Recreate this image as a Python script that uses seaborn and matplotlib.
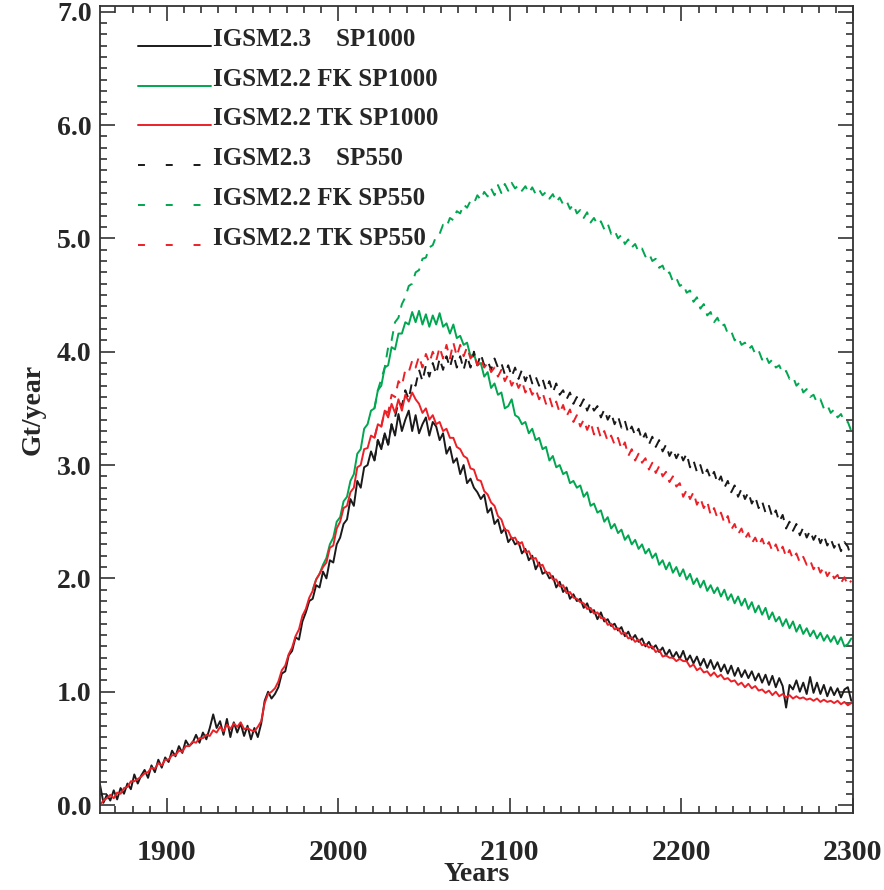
import numpy as np
import pandas as pd
import matplotlib
matplotlib.use("Agg")
import matplotlib.pyplot as plt
from matplotlib.lines import Line2D
from matplotlib.legend_handler import HandlerLine2D
from matplotlib.ticker import MultipleLocator, FormatStrFormatter
import seaborn as sns

# years (every 2nd year)
yrs_all = np.arange(1861, 2300, 2)
yrs_fk = np.arange(1985, 2300, 2)
yrs_550 = np.arange(2021, 2300, 2)

# IGSM2.3 SP1000 (black solid)
igsm23_sp1000 = [
    0.18, 0.02, 0.09, 0.04, 0.13, 0.05, 0.15, 0.10, 0.19, 0.14,
    0.27, 0.19, 0.26, 0.31, 0.24, 0.35, 0.29, 0.40, 0.33, 0.42,
    0.38, 0.48, 0.43, 0.52, 0.46, 0.57, 0.52, 0.55, 0.62, 0.55,
    0.64, 0.58, 0.68, 0.80, 0.68, 0.74, 0.62, 0.76, 0.60, 0.73,
    0.64, 0.72, 0.61, 0.70, 0.58, 0.68, 0.60, 0.72, 0.92, 1.00,
    0.94, 0.98, 1.04, 1.16, 1.18, 1.32, 1.36, 1.48, 1.46, 1.62,
    1.70, 1.80, 1.82, 1.94, 1.92, 2.06, 2.00, 2.16, 2.14, 2.30,
    2.36, 2.48, 2.52, 2.70, 2.64, 2.86, 2.80, 2.98, 3.00, 3.12,
    3.04, 3.22, 3.14, 3.28, 3.18, 3.36, 3.26, 3.45, 3.30, 3.40,
    3.48, 3.30, 3.44, 3.28, 3.36, 3.42, 3.26, 3.38, 3.34, 3.22,
    3.28, 3.10, 3.16, 3.02, 3.06, 2.92, 3.00, 2.84, 2.88, 2.80,
    2.76, 2.70, 2.74, 2.58, 2.62, 2.48, 2.52, 2.40, 2.44, 2.32,
    2.36, 2.30, 2.32, 2.22, 2.26, 2.16, 2.20, 2.08, 2.14, 2.04,
    2.06, 2.00, 2.02, 1.92, 1.97, 1.88, 1.92, 1.82, 1.86, 1.80,
    1.82, 1.74, 1.78, 1.70, 1.72, 1.64, 1.70, 1.62, 1.64, 1.58,
    1.60, 1.54, 1.57, 1.49, 1.53, 1.46, 1.50, 1.44, 1.47, 1.40,
    1.44, 1.38, 1.41, 1.35, 1.39, 1.32, 1.37, 1.30, 1.35, 1.29,
    1.36, 1.27, 1.32, 1.25, 1.31, 1.23, 1.29, 1.21, 1.28, 1.20,
    1.26, 1.18, 1.24, 1.16, 1.23, 1.14, 1.21, 1.13, 1.19, 1.12,
    1.18, 1.10, 1.16, 1.08, 1.15, 1.06, 1.14, 1.04, 1.12, 1.05,
    0.86, 1.06, 1.02, 1.10, 1.00, 1.08, 0.98, 1.13, 0.99, 1.08,
    0.98, 1.06, 0.96, 1.04, 0.97, 1.03, 0.95, 1.02, 1.04, 0.92,
]

# IGSM2.2 TK SP1000 (red solid)
tk_sp1000 = [
    0.00, 0.04, 0.06, 0.09, 0.06, 0.11, 0.10, 0.15, 0.16, 0.21,
    0.21, 0.23, 0.25, 0.28, 0.29, 0.33, 0.32, 0.37, 0.35, 0.40,
    0.40, 0.44, 0.44, 0.48, 0.47, 0.52, 0.52, 0.56, 0.55, 0.59,
    0.59, 0.62, 0.61, 0.66, 0.64, 0.69, 0.65, 0.71, 0.67, 0.72,
    0.69, 0.73, 0.67, 0.68, 0.66, 0.65, 0.69, 0.74, 0.90, 0.98,
    1.00, 1.03, 1.09, 1.19, 1.23, 1.33, 1.39, 1.49, 1.55, 1.67,
    1.73, 1.83, 1.89, 1.99, 2.04, 2.10, 2.14, 2.27, 2.29, 2.44,
    2.50, 2.62, 2.64, 2.76, 2.80, 2.98, 3.00, 3.14, 3.15, 3.26,
    3.24, 3.36, 3.34, 3.48, 3.42, 3.54, 3.46, 3.58, 3.48, 3.62,
    3.56, 3.64, 3.58, 3.54, 3.46, 3.50, 3.40, 3.44, 3.36, 3.38,
    3.30, 3.32, 3.24, 3.24, 3.16, 3.14, 3.08, 3.06, 2.97, 2.96,
    2.87, 2.86, 2.77, 2.74, 2.67, 2.64, 2.55, 2.52, 2.43, 2.42,
    2.35, 2.36, 2.30, 2.32, 2.23, 2.24, 2.17, 2.18, 2.11, 2.12,
    2.05, 2.05, 1.99, 1.99, 1.93, 1.94, 1.87, 1.88, 1.83, 1.82,
    1.79, 1.78, 1.73, 1.74, 1.69, 1.70, 1.65, 1.65, 1.59, 1.60,
    1.55, 1.56, 1.51, 1.52, 1.47, 1.48, 1.44, 1.46, 1.41, 1.42,
    1.39, 1.40, 1.35, 1.37, 1.31, 1.32, 1.30, 1.30, 1.27, 1.29,
    1.27, 1.27, 1.22, 1.24, 1.19, 1.21, 1.17, 1.18, 1.14, 1.17,
    1.13, 1.15, 1.11, 1.12, 1.09, 1.10, 1.06, 1.08, 1.04, 1.07,
    1.03, 1.05, 1.01, 1.02, 0.99, 1.01, 0.97, 1.00, 0.96, 0.98,
    0.95, 0.97, 0.94, 0.96, 0.94, 0.95, 0.93, 0.94, 0.92, 0.94,
    0.91, 0.93, 0.91, 0.92, 0.90, 0.92, 0.89, 0.91, 0.88, 0.90,
]

# IGSM2.2 FK SP1000 (green solid), same as TK before 1985
fk_sp1000 = [
    1.90, 1.99, 2.04, 2.12, 2.18, 2.30, 2.36, 2.50,
    2.54, 2.68, 2.72, 2.86, 2.92, 3.10, 3.14, 3.32, 3.36, 3.48,
    3.50, 3.66, 3.70, 3.86, 3.88, 4.04, 4.02, 4.16, 4.16, 4.26,
    4.24, 4.35, 4.26, 4.36, 4.24, 4.33, 4.22, 4.32, 4.24, 4.34,
    4.22, 4.25, 4.16, 4.24, 4.12, 4.14, 4.06, 4.08, 3.96, 3.98,
    3.88, 3.90, 3.78, 3.82, 3.68, 3.72, 3.62, 3.64, 3.50, 3.52,
    3.58, 3.44, 3.42, 3.36, 3.38, 3.28, 3.32, 3.22, 3.24, 3.14,
    3.16, 3.04, 3.08, 2.98, 3.00, 2.92, 2.94, 2.84, 2.86, 2.80,
    2.82, 2.72, 2.76, 2.64, 2.66, 2.58, 2.60, 2.50, 2.54, 2.44,
    2.48, 2.40, 2.43, 2.34, 2.38, 2.30, 2.34, 2.26, 2.30, 2.22,
    2.26, 2.18, 2.22, 2.12, 2.16, 2.08, 2.14, 2.05, 2.10, 2.02,
    2.08, 1.99, 2.04, 1.95, 2.00, 1.92, 1.98, 1.89, 1.94, 1.87,
    1.92, 1.84, 1.90, 1.81, 1.86, 1.78, 1.84, 1.76, 1.82, 1.73,
    1.79, 1.70, 1.76, 1.68, 1.74, 1.64, 1.70, 1.62, 1.66, 1.58,
    1.64, 1.56, 1.62, 1.53, 1.59, 1.51, 1.56, 1.49, 1.54, 1.47,
    1.52, 1.45, 1.50, 1.44, 1.49, 1.42, 1.48, 1.40, 1.42, 1.47,
]

# SP550 runs (dashed), from 2021
igsm23_sp550 = [
    3.04, 3.22, 3.14, 3.28, 3.18, 3.36, 3.42, 3.56, 3.52, 3.66,
    3.58, 3.74, 3.70, 3.84, 3.74, 3.88, 3.78, 3.90, 3.80, 3.94,
    3.84, 3.96, 3.86, 3.98, 3.86, 3.96, 3.84, 3.96, 3.86, 4.00,
    3.88, 3.98, 3.88, 3.92, 3.84, 3.94, 3.86, 3.90, 3.80, 3.88,
    3.78, 3.86, 3.76, 3.84, 3.74, 3.82, 3.72, 3.78, 3.70, 3.76,
    3.66, 3.74, 3.64, 3.72, 3.62, 3.66, 3.58, 3.64, 3.54, 3.60,
    3.52, 3.58, 3.48, 3.55, 3.48, 3.52, 3.42, 3.49, 3.40, 3.46,
    3.36, 3.43, 3.33, 3.39, 3.28, 3.34, 3.26, 3.32, 3.22, 3.28,
    3.18, 3.25, 3.16, 3.22, 3.12, 3.18, 3.08, 3.14, 3.06, 3.12,
    3.04, 3.10, 2.98, 3.04, 2.94, 3.00, 2.90, 2.96, 2.88, 2.94,
    2.84, 2.90, 2.80, 2.86, 2.76, 2.82, 2.72, 2.79, 2.70, 2.76,
    2.66, 2.72, 2.62, 2.68, 2.58, 2.64, 2.54, 2.60, 2.50, 2.56,
    2.44, 2.50, 2.42, 2.48, 2.38, 2.45, 2.36, 2.42, 2.34, 2.40,
    2.31, 2.38, 2.29, 2.35, 2.27, 2.33, 2.24, 2.32, 2.28, 2.18,
]

fk_sp550 = [
    3.50, 3.66, 3.76, 3.86, 4.04, 4.10, 4.26, 4.30, 4.42, 4.48,
    4.58, 4.60, 4.70, 4.72, 4.82, 4.83, 4.92, 4.94, 5.02, 5.04,
    5.12, 5.10, 5.18, 5.16, 5.24, 5.22, 5.30, 5.27, 5.33, 5.31,
    5.38, 5.34, 5.41, 5.37, 5.44, 5.38, 5.47, 5.40, 5.48, 5.42,
    5.49, 5.44, 5.47, 5.42, 5.46, 5.40, 5.45, 5.39, 5.43, 5.38,
    5.41, 5.35, 5.39, 5.32, 5.36, 5.30, 5.33, 5.26, 5.30, 5.22,
    5.25, 5.18, 5.23, 5.14, 5.18, 5.12, 5.15, 5.08, 5.13, 5.04,
    5.07, 5.00, 5.03, 4.95, 4.99, 4.92, 4.95, 4.88, 4.91, 4.84,
    4.87, 4.80, 4.82, 4.74, 4.76, 4.68, 4.70, 4.62, 4.65, 4.58,
    4.60, 4.52, 4.54, 4.44, 4.48, 4.38, 4.42, 4.32, 4.35, 4.26,
    4.30, 4.22, 4.24, 4.16, 4.18, 4.10, 4.13, 4.06, 4.08, 4.02,
    4.05, 3.98, 4.01, 3.93, 3.97, 3.90, 3.93, 3.86, 3.88, 3.81,
    3.83, 3.76, 3.78, 3.70, 3.73, 3.64, 3.67, 3.60, 3.62, 3.55,
    3.58, 3.50, 3.53, 3.46, 3.49, 3.42, 3.45, 3.38, 3.38, 3.30,
]

tk_sp550 = [
    3.24, 3.36, 3.34, 3.48, 3.46, 3.62, 3.60, 3.74, 3.70, 3.84,
    3.82, 3.92, 3.86, 3.96, 3.86, 3.98, 3.90, 4.00, 3.92, 4.04,
    3.94, 4.06, 3.94, 4.08, 3.96, 4.06, 3.96, 4.04, 3.94, 3.98,
    3.88, 3.94, 3.86, 3.90, 3.82, 3.86, 3.78, 3.84, 3.74, 3.80,
    3.70, 3.76, 3.68, 3.74, 3.64, 3.70, 3.62, 3.67, 3.58, 3.64,
    3.54, 3.60, 3.50, 3.56, 3.46, 3.53, 3.43, 3.49, 3.38, 3.44,
    3.34, 3.40, 3.31, 3.38, 3.27, 3.34, 3.24, 3.30, 3.21, 3.26,
    3.18, 3.24, 3.14, 3.20, 3.08, 3.14, 3.04, 3.10, 3.02, 3.06,
    2.96, 3.02, 2.93, 2.99, 2.90, 2.94, 2.85, 2.90, 2.81, 2.84,
    2.72, 2.78, 2.70, 2.76, 2.65, 2.71, 2.62, 2.68, 2.56, 2.62,
    2.53, 2.58, 2.49, 2.55, 2.43, 2.48, 2.39, 2.44, 2.35, 2.40,
    2.31, 2.36, 2.29, 2.35, 2.27, 2.32, 2.24, 2.30, 2.22, 2.28,
    2.19, 2.25, 2.17, 2.22, 2.14, 2.19, 2.12, 2.16, 2.08, 2.13,
    2.05, 2.10, 2.02, 2.07, 2.00, 2.03, 1.96, 2.01, 1.94, 1.98,
]

labels = ["IGSM2.3    SP1000", "IGSM2.2 FK SP1000", "IGSM2.2 TK SP1000",
          "IGSM2.3    SP550", "IGSM2.2 FK SP550", "IGSM2.2 TK SP550"]

BLACK = "#1a1a1a"
GREEN = "#00a650"
RED = "#ec2027"


class BaselineLine(HandlerLine2D):
    # legend sample drawn along the text baseline, as in the original
    def create_artists(self, legend, orig_handle, xdescent, ydescent,
                       width, height, fontsize, trans):
        arts = super().create_artists(legend, orig_handle, xdescent, ydescent,
                                      width, height, fontsize, trans)
        for a in arts:
            a.set_ydata(np.asarray(a.get_ydata()) - 0.5 * height)
        return arts


sns.set_style("ticks")
plt.rcParams["font.family"] = ["Liberation Serif", "DejaVu Serif"]
plt.rcParams["font.weight"] = "bold"

fig = plt.figure(figsize=(8.84, 8.9), dpi=100)
ax = fig.add_axes([100 / 884, 1 - 813 / 890, 753 / 884, 807 / 890])

lw = 1.4
dash = (0, (5, 4))
sns.lineplot(x=yrs_fk, y=fk_sp1000, ax=ax, color=GREEN, lw=lw, estimator=None)
sns.lineplot(x=yrs_550, y=fk_sp550, ax=ax, color=GREEN, lw=lw, estimator=None, linestyle=dash)
sns.lineplot(x=yrs_550, y=igsm23_sp550, ax=ax, color=BLACK, lw=lw, estimator=None, linestyle=dash)
sns.lineplot(x=yrs_550, y=tk_sp550, ax=ax, color=RED, lw=lw, estimator=None, linestyle=dash)
sns.lineplot(x=yrs_all, y=igsm23_sp1000, ax=ax, color=BLACK, lw=lw, estimator=None)
sns.lineplot(x=yrs_all, y=tk_sp1000, ax=ax, color=RED, lw=lw, estimator=None)

ax.set_xlim(1861, 2300)
ax.set_ylim(-0.07, 7.05)
ax.xaxis.set_major_locator(MultipleLocator(100))
ax.xaxis.set_minor_locator(MultipleLocator(10))
ax.yaxis.set_major_locator(MultipleLocator(1.0))
ax.yaxis.set_minor_locator(MultipleLocator(0.1))
ax.yaxis.set_major_formatter(FormatStrFormatter("%.1f"))

for s in ax.spines.values():
    s.set_color("#333333")
    s.set_linewidth(1.3)
ax.tick_params(which="both", direction="in", top=True, right=True,
               color="#333333", width=1.2)
ax.tick_params(which="major", length=11)
ax.tick_params(which="minor", length=5)
ax.tick_params(axis="x", which="major", labelsize=21.5, pad=19)
ax.tick_params(axis="y", which="major", labelsize=20, pad=6)
for t in ax.get_xticklabels() + ax.get_yticklabels():
    t.set_fontweight("bold")

ax.set_xlabel("Years", fontsize=20, fontweight="bold", labelpad=-3)
ax.set_ylabel("Gt/year", fontsize=20, fontweight="bold", labelpad=8)

# dash lengths are scaled by the line width, so divide by lw
gap_dash = (0, (5 / lw, 15 / lw))
handles = [
    Line2D([], [], color=BLACK, lw=lw),
    Line2D([], [], color=GREEN, lw=lw),
    Line2D([], [], color=RED, lw=lw),
    Line2D([], [], color=BLACK, lw=lw, linestyle=gap_dash),
    Line2D([], [], color=GREEN, lw=lw, linestyle=gap_dash),
    Line2D([], [], color=RED, lw=lw, linestyle=gap_dash),
]
ax.legend(handles, labels, loc="upper left", bbox_to_anchor=(0.05, 0.973),
          frameon=False, handlelength=2.95, handletextpad=0.05,
          labelspacing=0.67, borderpad=0, borderaxespad=0,
          prop={"weight": "bold", "size": 18},
          handler_map={Line2D: BaselineLine()})

fig.savefig("out.png", dpi=100)
